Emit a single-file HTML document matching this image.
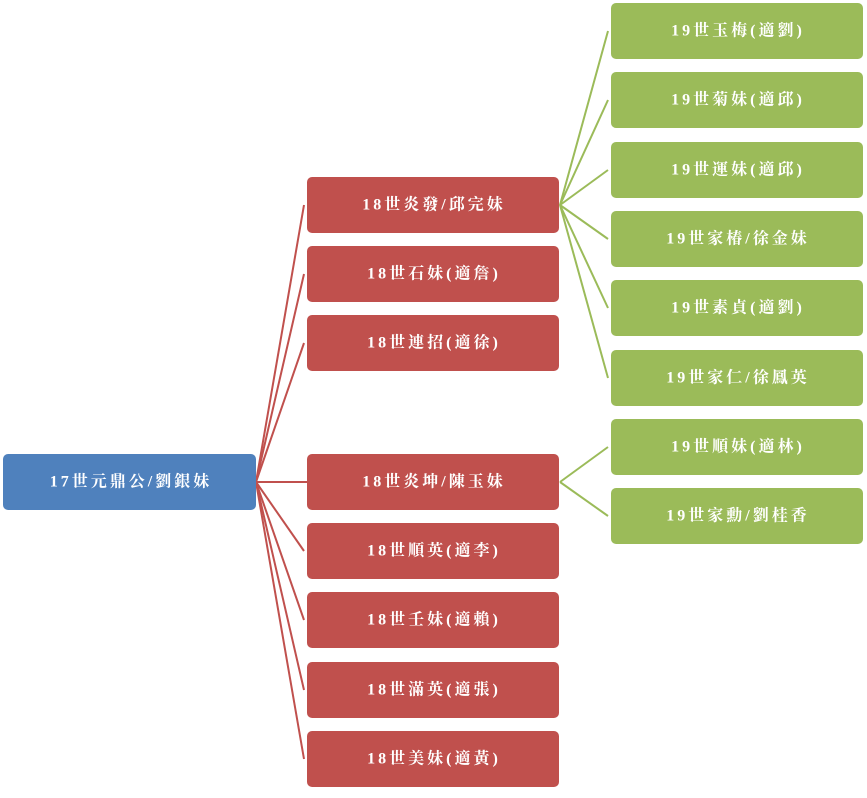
<!DOCTYPE html>
<html><head><meta charset="utf-8"><style>
html,body{margin:0;padding:0;background:#fff;}
svg{display:block}
text{font-family:"Liberation Serif","Noto Serif CJK SC","Noto Sans CJK TC",serif;font-size:16px;font-weight:bold;fill:#fff;text-anchor:middle;dominant-baseline:central;letter-spacing:3px}
</style></head><body>
<svg width="867" height="798" viewBox="0 0 867 798" xmlns="http://www.w3.org/2000/svg">
<g stroke="#c0504d" stroke-width="2" fill="none">
<line x1="256" y1="482" x2="304" y2="205"/>
<line x1="256" y1="482" x2="304" y2="274"/>
<line x1="256" y1="482" x2="304" y2="343"/>
<line x1="256" y1="482" x2="307" y2="482"/>
<line x1="256" y1="482" x2="304" y2="551"/>
<line x1="256" y1="482" x2="304" y2="620"/>
<line x1="256" y1="482" x2="304" y2="690"/>
<line x1="256" y1="482" x2="304" y2="759"/>
</g>
<g stroke="#9bbb59" stroke-width="2" fill="none">
<line x1="560" y1="205" x2="608" y2="31"/>
<line x1="560" y1="205" x2="608" y2="100"/>
<line x1="560" y1="205" x2="608" y2="170"/>
<line x1="560" y1="205" x2="608" y2="239"/>
<line x1="560" y1="205" x2="608" y2="308"/>
<line x1="560" y1="205" x2="608" y2="378"/>
<line x1="560" y1="482" x2="608" y2="447"/>
<line x1="560" y1="482" x2="608" y2="516"/>
</g>
<rect x="3" y="454" width="253" height="56" rx="5" fill="#4f81bd"/>
<text x="131" y="482">17世元鼎公/劉銀妹</text>
<g fill="#c0504d">
<rect x="307" y="177" width="252" height="56" rx="5"/>
<rect x="307" y="246" width="252" height="56" rx="5"/>
<rect x="307" y="315" width="252" height="56" rx="5"/>
<rect x="307" y="454" width="252" height="56" rx="5"/>
<rect x="307" y="523" width="252" height="56" rx="5"/>
<rect x="307" y="592" width="252" height="56" rx="5"/>
<rect x="307" y="662" width="252" height="56" rx="5"/>
<rect x="307" y="731" width="252" height="56" rx="5"/>
</g>
<text x="434" y="205">18世炎發/邱完妹</text>
<text x="434" y="274">18世石妹(適詹)</text>
<text x="434" y="343">18世連招(適徐)</text>
<text x="434" y="482">18世炎坤/陳玉妹</text>
<text x="434" y="551">18世順英(適李)</text>
<text x="434" y="620">18世壬妹(適賴)</text>
<text x="434" y="690">18世滿英(適張)</text>
<text x="434" y="759">18世美妹(適黃)</text>
<g fill="#9bbb59">
<rect x="611" y="3" width="252" height="56" rx="5"/>
<rect x="611" y="72" width="252" height="56" rx="5"/>
<rect x="611" y="142" width="252" height="56" rx="5"/>
<rect x="611" y="211" width="252" height="56" rx="5"/>
<rect x="611" y="280" width="252" height="56" rx="5"/>
<rect x="611" y="350" width="252" height="56" rx="5"/>
<rect x="611" y="419" width="252" height="56" rx="5"/>
<rect x="611" y="488" width="252" height="56" rx="5"/>
</g>
<text x="738" y="31">19世玉梅(適劉)</text>
<text x="738" y="100">19世菊妹(適邱)</text>
<text x="738" y="170">19世運妹(適邱)</text>
<text x="738" y="239">19世家椿/徐金妹</text>
<text x="738" y="308">19世素貞(適劉)</text>
<text x="738" y="378">19世家仁/徐鳳英</text>
<text x="738" y="447">19世順妹(適林)</text>
<text x="738" y="516">19世家勳/劉桂香</text>
</svg>
</body></html>
